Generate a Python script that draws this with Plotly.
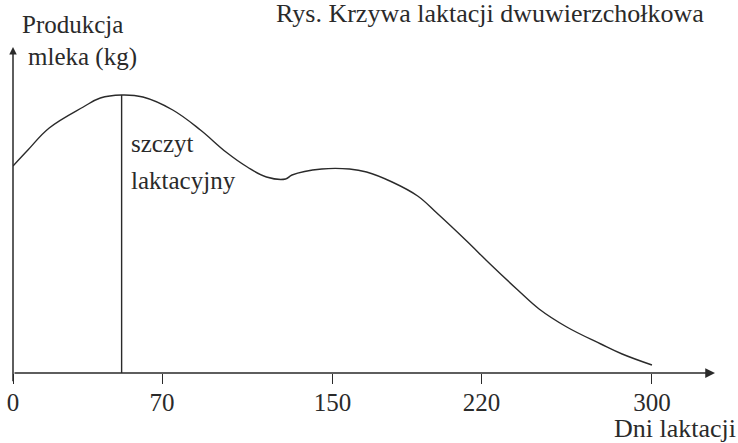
import plotly.graph_objects as go

# --- data ---
days = [0, 7, 17, 33, 41, 51, 61, 75, 88, 100, 110, 119, 128, 131, 145, 158, 166,
        178, 190, 199, 213, 224, 237, 247, 260, 276, 286, 300]
milk = [20.7, 22.3, 24.5, 26.6, 27.5, 27.8, 27.6, 26.3, 24.3, 22.1, 20.6, 19.6, 19.4,
        19.8, 20.4, 20.4, 20.1, 19.1, 17.7, 16.0, 13.2, 10.9, 8.3, 6.4, 4.6, 2.9, 1.9, 0.8]
tick_days = [0, 70, 150, 220, 300]
tick_text = ["0", "70", "150", "220", "300"]

title_text = "Rys. Krzywa laktacji dwuwierzchołkowa"
y_label_1 = "Produkcja"
y_label_2 = "mleka (kg)"
x_label = "Dni laktacji"
peak_label_1 = "szczyt"
peak_label_2 = "laktacyjny"

peak_i = max(range(len(milk)), key=lambda i: milk[i])
peak_day, peak_val = days[peak_i], milk[peak_i]

FONT = "Liberation Serif"
INK = "#2a2a2a"

fig = go.Figure()
fig.add_trace(go.Scatter(
    x=days, y=milk, mode="lines",
    line=dict(color=INK, width=1.4, shape="spline", smoothing=1.1),
    hoverinfo="skip", showlegend=False,
))

# vertical line at the lactation peak
fig.add_shape(type="line", xref="x", yref="y",
              x0=peak_day, x1=peak_day, y0=0, y1=peak_val,
              line=dict(color=INK, width=1.4))

def txt(x, y, s, size=24, xanchor="left"):
    return dict(xref="paper", yref="paper", x=x, y=y, xanchor=xanchor, yanchor="middle",
                text=s, showarrow=False, font=dict(family=FONT, size=size, color=INK))

annotations = [
    # axes with arrows
    dict(xref="x domain", yref="y domain", axref="x domain", ayref="y domain",
         x=1, y=0, ax=0, ay=0, showarrow=True, arrowhead=2, arrowsize=1.3,
         arrowwidth=1.5, arrowcolor=INK, text=""),
    dict(xref="x domain", yref="y domain", axref="x domain", ayref="y domain",
         x=0, y=1, ax=0, ay=-0.03, showarrow=True, arrowhead=2, arrowsize=1.0,
         arrowwidth=1.5, arrowcolor=INK, text=""),
    txt(0.372, 1.102, title_text, size=26),
    txt(0.010, 1.068, y_label_1, size=25),
    txt(0.018, 0.970, y_label_2, size=25),
    txt(0.165, 0.705, peak_label_1, size=25),
    txt(0.165, 0.592, peak_label_2, size=25),
    txt(1.033, -0.170, x_label, size=26, xanchor="right"),
]

fig.update_layout(
    width=738, height=443,
    margin=dict(l=13, r=23, t=47, b=70),
    paper_bgcolor="white", plot_bgcolor="white",
    annotations=annotations,
    xaxis=dict(range=[0, 329.6], tickvals=tick_days, ticktext=tick_text,
               ticks="outside", ticklen=10, tickwidth=1.4, tickcolor=INK,
               ticklabelstandoff=-3,
               showgrid=False, zeroline=False, showline=False, automargin=False,
               tickfont=dict(family=FONT, size=25, color=INK), fixedrange=True),
    yaxis=dict(range=[0, 32.6], showticklabels=False, ticks="", automargin=False,
               showgrid=False, zeroline=False, showline=False, fixedrange=True),
)

fig.write_html("out.html", config={"displayModeBar": False},
               post_script="document.body.style.margin='0';")
